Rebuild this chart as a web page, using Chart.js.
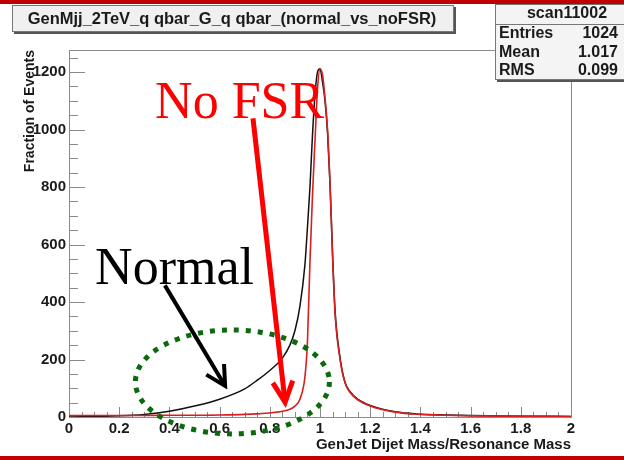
<!DOCTYPE html>
<html>
<head>
<meta charset="utf-8">
<script src="https://cdn.jsdelivr.net/npm/chart.js@4"></script>
<style>
  html, body { margin: 0; padding: 0; background: #fff; }
</style>
</head>
<body>
<canvas id="mjj" width="624" height="460"></canvas>
<script>
// GenJet dijet mass / resonance mass, normal vs no FSR
const massRatio = [0, 0.1, 0.2, 0.3, 0.4, 0.5, 0.6, 0.7, 0.75, 0.8, 0.85, 0.88, 0.9, 0.92, 0.94, 0.95, 0.96, 0.97, 0.98, 0.99,
                   1.0, 1.01, 1.02, 1.03, 1.04, 1.05, 1.06, 1.08, 1.1, 1.12, 1.15, 1.2, 1.3, 1.4, 1.5, 1.6, 1.8, 2.0];
const normal = [0, 2, 4, 9, 20, 38, 62, 98, 128, 162, 205, 250, 300, 385, 530, 660, 800, 980, 1120, 1200,
                1212, 1165, 1100, 990, 810, 570, 370, 205, 120, 88, 62, 40, 18, 10, 7, 5, 3, 2];
const noFSR = [5, 5, 5, 5, 6, 6, 7, 9, 11, 14, 20, 27, 38, 62, 140, 260, 540, 770, 960, 1140,
               1212, 1190, 1110, 1000, 810, 560, 360, 200, 118, 85, 60, 38, 17, 9, 6, 4, 3, 2];
const xTicks = [0, 0.2, 0.4, 0.6, 0.8, 1, 1.2, 1.4, 1.6, 1.8, 2];
const yTicks = [0, 200, 400, 600, 800, 1000, 1200];

const histTitle = 'GenMjj_2TeV_q qbar_G_q qbar_(normal_vs_noFSR)';
const statsName = 'scan11002';
const statsRows = [['Entries', '1024'], ['Mean', '1.017'], ['RMS', '0.099']];

const helv = 'Liberation Sans, Arial, Helvetica, sans-serif';
const serif = 'Liberation Serif, Times New Roman, serif';

function pts(ys) {
    return massRatio.map((x, i) => ({x: x, y: ys[i]}));
}

// ROOT style frame with ticks pointing inside
const frame = {
    id: 'frame',
    beforeDatasetsDraw(chart) {
        const ctx = chart.ctx, a = chart.chartArea, sx = chart.scales.x, sy = chart.scales.y;
        ctx.save();
        ctx.strokeStyle = '#8a8a8a';
        ctx.lineWidth = 1;
        ctx.strokeRect(Math.round(a.left) + 0.5, Math.round(a.top) + 0.5, Math.round(a.right - a.left), Math.round(a.bottom - a.top));
        ctx.beginPath();
        for (let i = 0; i <= 40; i++) {
            const x = Math.round(sx.getPixelForValue(i * 0.05)) + 0.5;
            const len = i % 4 === 0 ? 10 : 5;
            ctx.moveTo(x, a.bottom);
            ctx.lineTo(x, a.bottom - len);
        }
        for (let i = 0; i * 50 <= sy.max; i++) {
            const y = Math.round(sy.getPixelForValue(i * 50)) + 0.5;
            const len = i % 4 === 0 ? 16 : 9;
            ctx.moveTo(a.left, y);
            ctx.lineTo(a.left + len, y);
        }
        ctx.stroke();
        ctx.restore();
    }
};

function arrow(ctx, x0, y0, x1, y1, head, spread, color, width) {
    const ang = Math.atan2(y1 - y0, x1 - x0);
    ctx.strokeStyle = color;
    ctx.lineWidth = width;
    ctx.lineJoin = 'miter';
    ctx.beginPath();
    ctx.moveTo(x0, y0);
    ctx.lineTo(x1, y1);
    ctx.stroke();
    ctx.beginPath();
    ctx.moveTo(x1 - head * Math.cos(ang - spread), y1 - head * Math.sin(ang - spread));
    ctx.lineTo(x1, y1);
    ctx.lineTo(x1 - head * Math.cos(ang + spread), y1 - head * Math.sin(ang + spread));
    ctx.stroke();
}

// hand drawn notes, title pave and stats box
const notes = {
    id: 'notes',
    afterDraw(chart) {
        const ctx = chart.ctx, sx = chart.scales.x, sy = chart.scales.y;
        const X = v => sx.getPixelForValue(v), Y = v => sy.getPixelForValue(v);
        ctx.save();

        // slide bars
        ctx.fillStyle = '#c00000';
        ctx.fillRect(0, 0, 624, 4);
        ctx.fillRect(0, 456, 624, 4);

        // green dotted ellipse
        ctx.strokeStyle = '#0b6a0b';
        ctx.lineWidth = 5;
        ctx.setLineDash([5, 7]);
        ctx.beginPath();
        ctx.ellipse(X(0.651), Y(122), 97, 52, 0, 0, Math.PI * 2);
        ctx.stroke();
        ctx.setLineDash([]);

        arrow(ctx, X(0.382), Y(458), X(0.622), Y(108), 22, 0.49, '#000', 4);
        arrow(ctx, X(0.733), Y(1039), X(0.861), Y(51), 23, 0.45, '#ff0000', 5);

        ctx.textBaseline = 'alphabetic';
        ctx.textAlign = 'left';
        ctx.font = '52px ' + serif;
        ctx.fillStyle = '#ff0000';
        ctx.fillText('No FSR', X(0.343), Y(1039));
        ctx.fillStyle = '#000';
        ctx.fillText('Normal', X(0.104), Y(464));

        // title pave
        ctx.fillStyle = '#555';
        ctx.fillRect(14, 7, 442, 27);
        ctx.fillStyle = '#f0f0f0';
        ctx.fillRect(12, 5, 442, 27);
        ctx.strokeStyle = '#777';
        ctx.lineWidth = 1;
        ctx.strokeRect(12.5, 5.5, 441, 26);
        ctx.fillStyle = '#1a1a1a';
        ctx.font = 'bold 16.5px ' + helv;
        ctx.textAlign = 'center';
        ctx.textBaseline = 'middle';
        ctx.fillText(histTitle, 232, 19);

        // stats box
        ctx.fillStyle = '#555';
        ctx.fillRect(497, 6, 140, 76);
        ctx.fillStyle = '#f4f4f4';
        ctx.fillRect(495, 4, 140, 76);
        ctx.strokeStyle = '#777';
        ctx.strokeRect(495.5, 4.5, 140, 75);
        ctx.beginPath();
        ctx.moveTo(495, 24.5);
        ctx.lineTo(624, 24.5);
        ctx.stroke();
        ctx.fillStyle = '#1a1a1a';
        ctx.font = 'bold 16px ' + helv;
        ctx.textAlign = 'center';
        ctx.fillText(statsName, 567, 14);
        statsRows.forEach((r, i) => {
            const y = 34 + i * 18.3;
            ctx.textAlign = 'left';
            ctx.fillText(r[0], 499, y);
            ctx.textAlign = 'right';
            ctx.fillText(r[1], 618, y);
        });
        ctx.restore();
    }
};

const ctx = document.getElementById('mjj').getContext('2d');
const chart = new Chart(ctx, {
    type: 'line',
    data: {
        datasets: [{
            label: 'no FSR',
            data: pts(noFSR),
            borderColor: '#d81e1e',
            borderWidth: 1.6,
            pointRadius: 0,
            cubicInterpolationMode: 'monotone',
            fill: false
        }, {
            label: 'normal',
            data: pts(normal),
            borderColor: '#111',
            borderWidth: 1.5,
            pointRadius: 0,
            cubicInterpolationMode: 'monotone',
            fill: false
        }]
    },
    options: {
        responsive: false,
        animation: false,
        layout: { padding: { top: 50, right: 53, left: 0, bottom: 0 } },
        plugins: { legend: { display: false }, tooltip: { enabled: false } },
        scales: {
            x: {
                type: 'linear',
                min: 0,
                max: 2,
                grid: { display: false, drawTicks: false },
                border: { display: false },
                afterBuildTicks: s => { s.ticks = xTicks.map(v => ({value: v})); },
                ticks: {
                    padding: 3,
                    maxRotation: 0,
                    autoSkip: false,
                    color: '#1a1a1a',
                    font: { family: helv, size: 15, weight: 'bold' },
                    callback: v => String(v)
                },
                title: {
                    display: true,
                    text: 'GenJet Dijet Mass/Resonance Mass',
                    align: 'end',
                    color: '#1a1a1a',
                    font: { family: helv, size: 15, weight: 'bold' },
                    padding: { top: 0, bottom: 6 }
                },
                afterFit: s => { s.height = 43; }
            },
            y: {
                min: 0,
                max: 1277,
                grid: { display: false, drawTicks: false },
                border: { display: false },
                afterBuildTicks: s => { s.ticks = yTicks.map(v => ({value: v})); },
                ticks: {
                    padding: 3,
                    color: '#1a1a1a',
                    font: { family: helv, size: 15, weight: 'bold' },
                    callback: v => String(v)
                },
                title: {
                    display: true,
                    text: 'Fraction of Events',
                    align: 'end',
                    color: '#1a1a1a',
                    font: { family: helv, size: 14, weight: 'bold' },
                    padding: { top: 22, bottom: 0 }
                },
                afterFit: s => { s.width = 69; }
            }
        }
    },
    plugins: [frame, notes]
});
</script>
</body>
</html>
